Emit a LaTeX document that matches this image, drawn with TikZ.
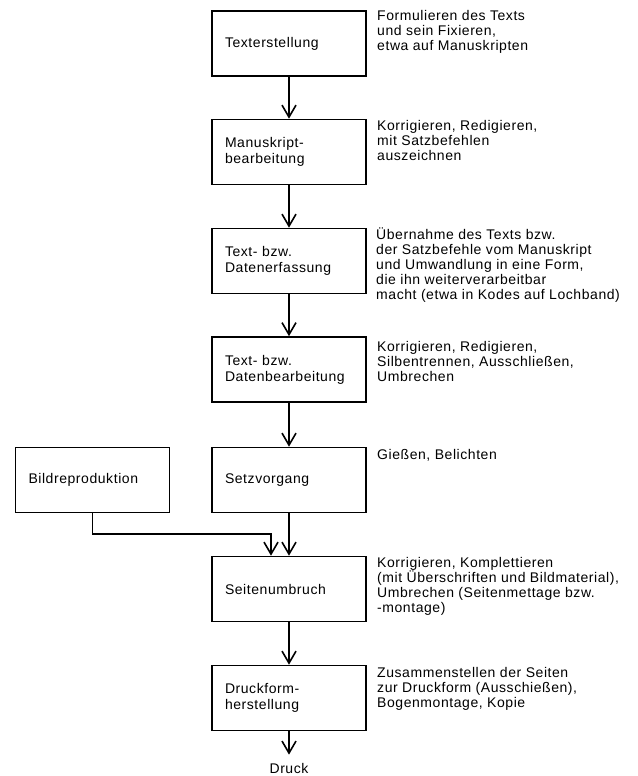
\documentclass[tikz,border=0pt]{standalone}
\usepackage{fontspec}
\setmainfont{Liberation Sans}[LetterSpace=4]
\usetikzlibrary{arrows.meta}

\begin{document}
\begin{tikzpicture}[x=1pt, y=-1pt,
  stage/.style={draw, line width=1.6pt, minimum width=154pt, minimum height=65pt,
    text width=128pt, inner xsep=13pt, align=left, font=\fontsize{14}{16}\selectfont},
  note/.style={anchor=north west, inner sep=0pt, align=left, font=\fontsize{14}{15}\selectfont},
  flow/.style={line width=1.6pt, -{Straight Barb[length=12pt,width=14pt]}}]
\useasboundingbox (0,0) rectangle (637,776);

% Main chain of stages
\node[stage] (texterst) at (289,43.5) {Texterstellung};
\node[stage] (manuskr) at (289,152) {Manuskript-\\bearbeitung};
\node[stage] (erfass) at (289,261) {Text- bzw.\\Datenerfassung};
\node[stage] (bearb) at (289,369.5) {Text- bzw.\\Datenbearbeitung};
\node[stage] (setzv) at (289,480) {Setzvorgang};
\node[stage] (umbruch) at (289,589) {Seitenumbruch};
\node[stage] (druckf) at (289,698) {Druckform-\\herstellung};
\node[inner sep=0pt, font=\fontsize{14}{16}\selectfont] (druck) at (289,768) {Druck};

% Side branch
\node[stage] (bildrep) at (92.5,480) {Bildreproduktion};

% Notes to the right
\node[note] (n1) at (377,10) {Formulieren des Texts\\und sein Fixieren,\\etwa auf Manuskripten};
\node[note] (n2) at (377,120) {Korrigieren, Redigieren,\\mit Satzbefehlen\\auszeichnen};
\node[note] (n3) at (376,228) {Übernahme des Texts bzw.\\der Satzbefehle vom Manuskript\\und Umwandlung in eine Form,\\die ihn weiterverarbeitbar\\macht (etwa in Kodes auf Lochband)};
\node[note] (n4) at (377,341) {Korrigieren, Redigieren,\\Silbentrennen, Ausschließen,\\Umbrechen};
\node[note] (n5) at (377,449) {Gießen, Belichten};
\node[note] (n6) at (377,557) {Korrigieren, Komplettieren\\(mit Überschriften und Bildmaterial),\\Umbrechen (Seitenmettage bzw.\\-montage)};
\node[note] (n7) at (377,667) {Zusammenstellen der Seiten\\zur Druckform (Ausschießen),\\Bogenmontage, Kopie};

% Arrows
\draw[flow] (texterst) -- (manuskr);
\draw[flow] (manuskr) -- (erfass);
\draw[flow] (erfass) -- (bearb);
\draw[flow] (bearb) -- (setzv);
\draw[flow] (setzv) -- (umbruch);
\draw[flow] (umbruch) -- (druckf);
\draw[flow, shorten >=8pt] (druckf) -- (druck);

\coordinate (bend) at (271,534);
\draw[flow] (bildrep.south) |- (bend) -- (bend |- umbruch.north);
\end{tikzpicture}
\end{document}
